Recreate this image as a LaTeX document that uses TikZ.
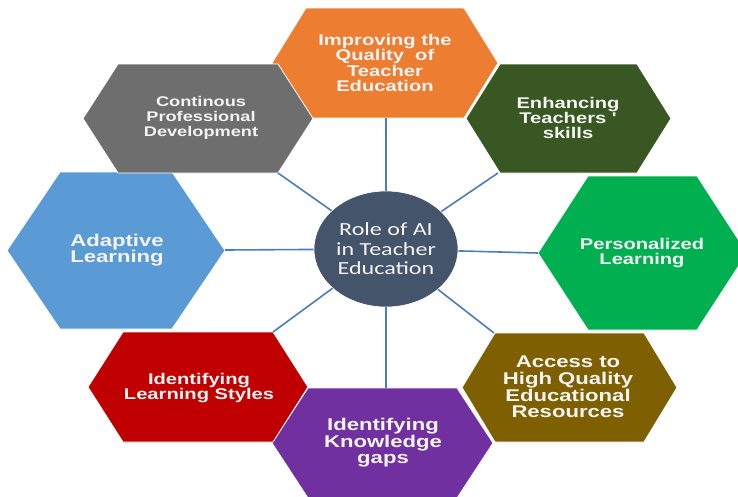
\documentclass[tikz,border=0pt]{standalone}
\usepackage{fontspec}
\setmainfont{Liberation Sans}
\newfontfamily\hexfont{Liberation Sans}[FakeStretch=1.3]
\newfontfamily\rolefont{Carlito}[FakeStretch=1.3]
\usetikzlibrary{shapes.geometric}
\definecolor{cOrange}{HTML}{ED7D31}
\definecolor{cDkGreen}{HTML}{385723}
\definecolor{cGreen}{HTML}{00B050}
\definecolor{cBrown}{HTML}{7F6000}
\definecolor{cPurple}{HTML}{7030A0}
\definecolor{cRed}{HTML}{C00000}
\definecolor{cBlue}{HTML}{5B9BD5}
\definecolor{cGray}{HTML}{6E6E6E}
\definecolor{cCore}{HTML}{44546A}
\definecolor{cLine}{HTML}{4A7EBB}
\definecolor{cText}{HTML}{F4F4F4}
% #1 L, #2 R, #3 T, #4 B, #5 inset, #6 colour
\newcommand\hexpatch[6]{%
  \fill[#6, draw=white, line width=0.8pt]
    (#1,{(#3+#4)/2}) -- ({#1+#5},#3) -- ({#2-#5},#3) -- (#2,{(#3+#4)/2})
    -- ({#2-#5},#4) -- ({#1+#5},#4) -- cycle;}
\tikzset{
  hexlabel/.style={text=cText, align=center, inner sep=0pt},
  fsmall/.style={font={\hexfont\bfseries\fontsize{14}{15}\selectfont}},
  fmid/.style={font={\hexfont\bfseries\fontsize{15.5}{15.2}\selectfont}},
  fbig/.style={font={\hexfont\bfseries\fontsize{17}{16.6}\selectfont}},
  core/.style={ellipse, fill=cCore, draw=white, line width=0.6pt, minimum width=144pt,
    minimum height=116pt, inner sep=0pt, text=cText, align=center,
    font={\rolefont\fontsize{18.5}{19.5}\selectfont}},
  conn/.style={draw=cLine, line width=1.6pt}
}
\begin{document}
\begin{tikzpicture}[x=1pt,y=-1pt]
\useasboundingbox (0,0) rectangle (738,496);
% hexagons
\hexpatch{272}{498}{8}{118}{34}{cOrange}
\hexpatch{466}{671}{64}{173}{34}{cDkGreen}
\hexpatch{538}{747}{176}{330}{50}{cGreen}
\hexpatch{462}{677}{333}{442}{33}{cBrown}
\hexpatch{272}{493}{388}{498}{36}{cPurple}
\hexpatch{88}{308}{332}{442}{35}{cRed}
\hexpatch{7}{225}{172}{329}{53}{cBlue}
\hexpatch{83}{313}{64}{173}{35}{cGray}
% labels
\node[hexlabel, fmid] (quality) at (385,63) {Improving the\\Quality\ \ of\\Teacher\\Education};
\node[hexlabel, fmid] (skills) at (568,118) {Enhancing\\Teachers '\\skills};
\node[hexlabel, fmid] (personal) at (642,253) {Personalized\\Learning};
\node[hexlabel, fbig] (access) at (568,387) {Access to\\High Quality\\Educational\\Resources};
\node[hexlabel, fbig] (gaps) at (383,443) {Identifying\\Knowledge\\gaps};
\node[hexlabel, fmid] (styles) at (199,388) {Identifying\\Learning Styles};
\node[hexlabel, fbig] (adaptive) at (117,250) {Adaptive\\Learning};
\node[hexlabel, fsmall] (cpd) at (201,118) {Continous\\Professional\\Development};
% connector end points on the hexagons
\coordinate (qualityEnd) at (386,118);
\coordinate (skillsEnd) at (498,173);
\coordinate (personalEnd) at (538,253);
\coordinate (accessEnd) at (494,333);
\coordinate (gapsEnd) at (386,388);
\coordinate (stylesEnd) at (273,332);
\coordinate (adaptiveEnd) at (225,250);
\coordinate (cpdEnd) at (278,173);
% centre
\node[core] (role) at (386,249) {Role of AI\\in Teacher\\Education};
% connectors
\foreach \e in {qualityEnd,skillsEnd,personalEnd,accessEnd,gapsEnd,stylesEnd,adaptiveEnd,cpdEnd}
  \draw[conn] (role) -- (\e);
\end{tikzpicture}
\end{document}
